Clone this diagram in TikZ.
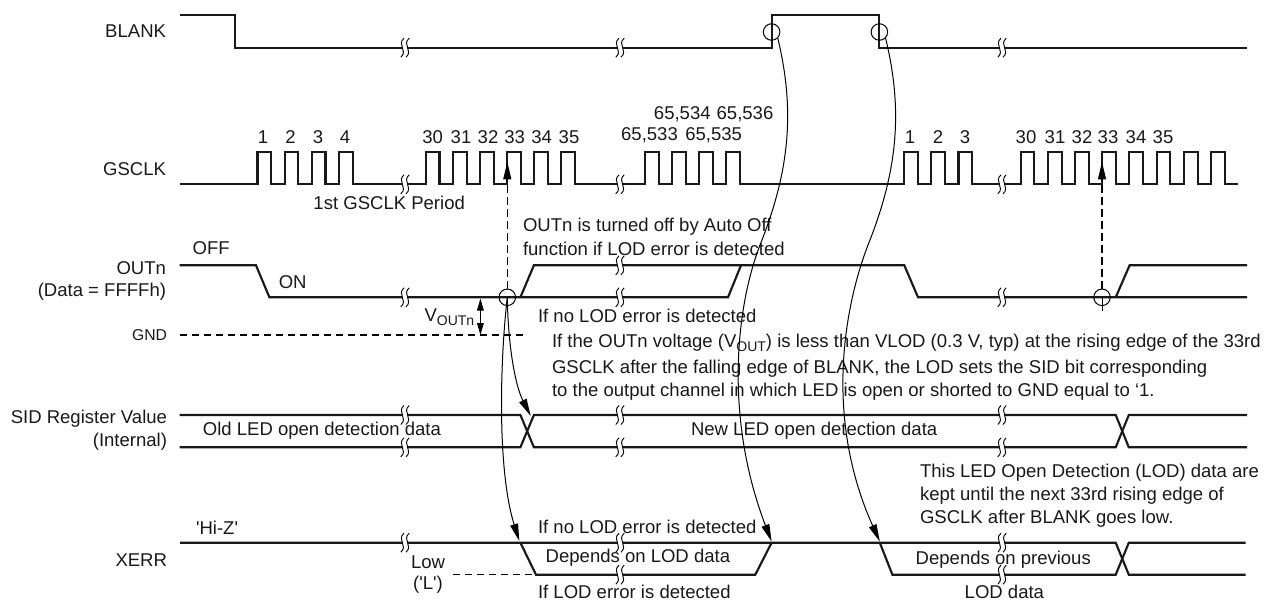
\documentclass[tikz,border=0pt]{standalone}
\usepackage{fontspec}
\setmainfont{Liberation Sans}
\newfontfamily\plainq{Liberation Sans}
\usetikzlibrary{arrows.meta}
\tikzset{
  px/.style={x=0.75pt,y=-0.75pt},
  sig/.style={line width=1.6pt,line join=miter,line cap=butt,black!90},
  curve/.style={line width=0.75pt,black,-{Triangle[length=13pt,width=6pt]}},
  txt/.style={inner sep=0pt,outer sep=0pt,font=\fontsize{13.9pt}{15pt}\selectfont,text=black!90},
  lft/.style={txt,anchor=west},
  rgt/.style={txt,anchor=east},
  ctr/.style={txt,anchor=center},
  ring/.style={circle,draw,line width=0.75pt,minimum size=12.4pt,inner sep=0pt,fill=none},
  dsh/.style={line width=0.8pt,dash pattern=on 5.5pt off 3.5pt},
}
% break mark at (#1,#2)
\newcommand{\brk}[2]{%
  \fill[white] (#1-3,#2-7) rectangle (#1+3,#2+7);
  \foreach \dx in {-2.6,2.6}{
    \draw[line width=0.7pt] (#1+\dx+1.6,#2-9.5) .. controls (#1+\dx-6,#2-3) and (#1+\dx+6,#2+3) .. (#1+\dx-1.6,#2+9.5);
  }}
\begin{document}
\begin{tikzpicture}[px]
\useasboundingbox (0,0) rectangle (1266,600);
% labels
\node[rgt] (lblank) at (166,31) {BLANK};
\node[rgt] (lgsclk) at (166,169) {GSCLK};
\node[rgt] (louta) at (166,268) {OUTn};
\node[rgt] (loutb) at (166,292) {(Data = FFFFh)};
\node[rgt,font=\fontsize{11.8pt}{14pt}\selectfont] (lgnd) at (167,335) {GND};
\node[rgt] (lsida) at (167,419) {SID Register Value};
\node[rgt] (lsidb) at (167,442) {(Internal)};
\node[rgt] (lxerr) at (167,560) {XERR};
% BLANK
\draw[sig] (179.6,15)--(234.7,15)--(234.7,47.7)--(771.6,47.7)--(771.6,15)--(879.4,15)--(879.4,47.7)--(1247,47.7);
\brk{405}{47.7}\brk{620}{47.7}\brk{1002}{47.7}
% GSCLK
\draw[sig] (179.6,184.3)
  \foreach \r in {257.5,284.6,311.7,338.8,425.7,452.8,479.9,507,534.1,561.2,645,672.1,699.2,726.3,904.3,931.4,958.5,1020.6,1047.8,1075,1102.2,1129.4,1156.6,1183.8,1211}
  {--(\r,184.3)--(\r,152.3)--(\r+13.8,152.3)--(\r+13.8,184.3)}
  --(1238,184.3);
\brk{405}{184.3}\brk{620}{184.3}\brk{1002}{184.3}
\foreach \n/\x/\t in {c1/263/1,c2/290.6/2,c3/318/3,c4/345/4,c30/432.6/30,c31/461/31,c32/488/32,c33/514.7/33,c34/541.6/34,c35/569/35,d1/910/1,d2/938/2,d3/965/3,d30/1026/30,d31/1055/31,d32/1082/32,d33/1108/33,d34/1136/34,d35/1163/35}
  \node[ctr] (\n) at (\x,137) {\t};
\node[ctr] (n533) at (649.5,135) {65,533};
\node[ctr] (n535) at (713.7,135) {65,535};
\node[ctr] (n534) at (682.3,114) {65,534};
\node[ctr] (n536) at (745,114) {65,536};
\node[ctr] (first) at (389.2,203) {1st GSCLK Period};
% OUTn
\draw[sig] (179.6,265.3)--(256,265.3)--(269.4,297.3)--(728,297.3)--(741,265.3);
\draw[sig] (520.4,297.3)--(533.9,265.3)--(904.3,265.3)--(918,297.3)--(1247,297.3);
\draw[sig] (1115.7,297.3)--(1129.6,265.3)--(1247,265.3);
\brk{405}{297.3}\brk{620}{265.3}\brk{620}{297.3}\brk{1002}{297.3}
\node[lft] (off) at (192.6,248) {OFF};
\node[lft] (on) at (278.8,282) {ON};
\node[lft] (ta) at (523,227) {OUTn is turned off by Auto Off};
\node[lft] (tb) at (523,249) {function if LOD error is detected};
\node[lft] (tc) at (538,316) {If no LOD error is detected};
\node[lft] (v) at (424.5,317) {V\raisebox{-0.4ex}{\fontsize{10.5pt}{12pt}\selectfont OUTn}};
\node[lft] (t1) at (552,343) {If the OUTn voltage (V\raisebox{-0.4ex}{\fontsize{10.5pt}{12pt}\selectfont OUT}) is less than VLOD (0.3 V, typ) at the rising edge of the 33rd};
\node[lft] (t2) at (552,369) {GSCLK after the falling edge of BLANK, the LOD sets the SID bit corresponding};
\node[lft] (t3) at (552,392) {to the output channel in which LED is open or shorted to GND equal to ‘1.};
% GND
\draw[dsh] (179.6,335)--(525.7,335);
\coordinate (gndv) at (480.4,335);
\coordinate (outv) at (480.4,298.5);
\draw[line width=0.75pt,{Triangle[length=9pt,width=5pt]}-{Triangle[length=9pt,width=5pt]}] (outv)--(gndv);
% SID
\draw[sig] (179.6,415)--(520.4,415)--(533.9,447.3)--(1115.7,447.3)--(1128.8,415)--(1247,415);
\draw[sig] (179.6,447.3)--(520.4,447.3)--(533.9,415)--(1115.7,415)--(1128.8,447.3)--(1247,447.3);
\brk{405}{415}\brk{405}{447.3}\brk{620}{415}\brk{620}{447.3}\brk{1002}{415}\brk{1002}{447.3}
\node[lft] (old) at (202.9,431) {Old LED open detection data};
\node[lft] (new) at (691,431) {New LED open detection data};
\node[lft] (k1) at (920,473) {This LED Open Detection (LOD) data are};
\node[lft] (k2) at (920,496) {kept until the next 33rd rising edge of};
\node[lft] (k3) at (920,519) {GSCLK after BLANK goes low.};
% XERR
\draw[sig] (180,542.7)--(1115.7,542.7)--(1128.8,574.7)--(1245.5,574.7);
\draw[sig] (520.4,542.7)--(536,574.7)--(755.3,574.7)--(771.6,542.7);
\draw[sig] (879.8,542.7)--(892.4,574.7)--(1115.7,574.7)--(1128.8,542.7)--(1245.5,542.7);
\draw[sig,line width=2.2pt] (771.6,543)--(926,543);
\brk{405}{542.7}\brk{620}{542.7}\brk{620}{574.7}\brk{1002}{542.7}\brk{1002}{574.7}
\draw[dsh] (453,574.7)--(536,574.7);
\node[lft] (hiz) at (196,528) {\plainq 'Hi-Z'};
\node[ctr] (low) at (428,562) {Low};
\node[ctr] (ll) at (428,585) {\plainq ('L')};
\node[lft] (e1) at (538,527) {If no LOD error is detected};
\node[lft] (e2) at (545.7,558) {Depends on LOD data};
\node[lft] (e3) at (538,592) {If LOD error is detected};
\node[lft] (p1) at (915.7,560) {Depends on previous};
\node[lft] (p2) at (964.7,592) {LOD data};
% rings
\node[ring] (r1) at (771.6,32) {};
\node[ring] (r2) at (879.4,32) {};
\node[ring] (r3) at (507.3,297.3) {};
\node[ring] (r4) at (1102,297.3) {};
\coordinate (e33) at (507.3,162);
\coordinate (f33) at (1102,162);
\coordinate (e33b) at (507.3,178);
\coordinate (f33b) at (1102,178);
\draw[dsh] (r3.north)--(e33b);
\draw[dsh] (r4.north)--(f33b);
\draw[line width=0.75pt,-{Triangle[length=13pt,width=6pt]}] (e33b)--(e33);
\draw[line width=0.75pt,-{Triangle[length=13pt,width=6pt]}] (f33b)--(f33);
\coordinate (r4t) at (1102,311);
\draw[line width=0.75pt] (r4.center)--(r4t);
% curves
\coordinate (tsid) at (530.7,416);
\coordinate (txa) at (519.3,541);
\coordinate (txb) at (771.6,541.5);
\coordinate (txc) at (879.8,541.5);
\draw[curve] (r3.center) .. controls (508,345) and (515,385) .. (tsid);
\draw[curve] (r3.center) .. controls (500,360) and (497,470) .. (txa);
\draw[curve] (r1.south east) .. controls (795,110) and (790,170) .. (760,245) .. controls (735,310) and (725,420) .. (txb);
\draw[curve] (r2.south east) .. controls (903,110) and (898,170) .. (868,245) .. controls (843,310) and (825,420) .. (txc);
\end{tikzpicture}
\end{document}
